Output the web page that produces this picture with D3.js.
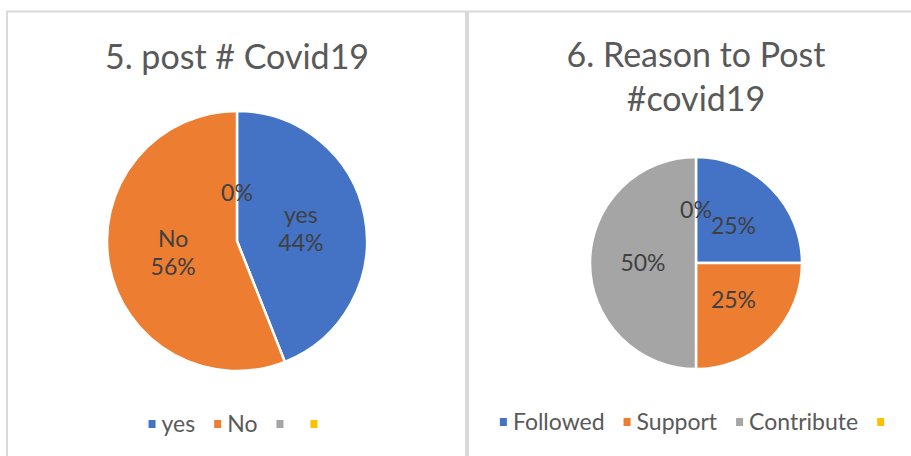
<!DOCTYPE html>
<html>
<head>
<meta charset="utf-8">
<script src="https://cdn.jsdelivr.net/npm/d3@7"></script>
<style>
  body { margin: 0; background: #fff; }
  svg { display: block; font-family: Lato, "Open Sans", sans-serif; }
</style>
</head>
<body>
<svg id="chart" width="911" height="456"></svg>
<script>
// chart 1: "5. post # Covid19"
const postCategories = [`yes`, `No`, ``, ``];
const postValues = [44, 56, 0, null];

// chart 2: "6. Reason to Post #covid19"
const reasonCategories = [`Followed`, `Support`, `Contribute`, ``];
const reasonValues = [25, 25, 50, 0];

const seriesColors = [`#4472C4`, `#ED7D31`, `#A5A5A5`, `#FFC000`];

const svg = d3.select(`#chart`);
const pct = d3.format(`.0%`);

const charts = [
    {
        title: [`5. post # Covid19`], titleY: 69,
        categories: postCategories, values: postValues,
        x0: 7, x1: 466, cx: 237, cy: 241, r: 130,
        showCategory: true, zeroLabelK: 0.37, legendY: 424
    },
    {
        title: [`6. Reason to Post`, `#covid19`], titleY: 67,
        categories: reasonCategories, values: reasonValues,
        x0: 468, x1: 927, cx: 696, cy: 263, r: 106,
        showCategory: false, zeroLabelK: 0.5, legendY: 422
    }
];

charts.forEach(c => {
    // chart frame
    svg.append(`rect`)
        .attr(`x`, c.x0).attr(`y`, 11.5)
        .attr(`width`, c.x1 - c.x0).attr(`height`, 480)
        .attr(`fill`, `none`)
        .attr(`stroke`, `#d9d9d9`)
        .attr(`stroke-width`, 2);

    svg.append(`text`)
        .attr(`x`, c.cx).attr(`y`, c.titleY)
        .attr(`text-anchor`, `middle`)
        .attr(`font-size`, `34px`)
        .attr(`fill`, `#595959`)
        .selectAll(`tspan`)
        .data(c.title)
        .enter().append(`tspan`)
            .attr(`x`, c.cx)
            .attr(`dy`, (d, i) => i === 0 ? 0 : 44)
            .text(d => d);

    const rows = c.categories.map((name, i) => ({ name, value: c.values[i], color: seriesColors[i] }));
    const total = d3.sum(rows, d => d.value || 0);

    const pie = d3.pie().sort(null).value(d => d.value || 0);
    const arc = d3.arc().innerRadius(0).outerRadius(c.r);
    const arcs = pie(rows);

    const g = svg.append(`g`).attr(`transform`, `translate(${c.cx}, ${c.cy})`);

    g.selectAll(`path`)
        .data(arcs.filter(d => d.data.value > 0))
        .enter().append(`path`)
            .attr(`d`, arc)
            .attr(`fill`, d => d.data.color)
            .attr(`stroke`, `#fff`)
            .attr(`stroke-width`, 2.5)
            .attr(`stroke-linejoin`, `round`);

    const labels = g.selectAll(`.lbl`)
        .data(arcs.filter(d => d.data.value !== null))
        .enter().append(`text`)
            .attr(`class`, `lbl`)
            .attr(`text-anchor`, `middle`)
            .attr(`font-size`, `23px`)
            .attr(`fill`, `#404040`)
            .attr(`transform`, d => {
                const k = d.data.value === 0 ? c.zeroLabelK : 0.5;
                const a = (d.startAngle + d.endAngle) / 2;
                return `translate(${Math.sin(a) * c.r * k}, ${-Math.cos(a) * c.r * k})`;
            });

    labels.each(function (d) {
        const t = d3.select(this);
        const lines = [];
        if (c.showCategory && d.data.name) lines.push(d.data.name);
        lines.push(pct(d.data.value / total));
        const lh = 28;
        t.selectAll(`tspan`)
            .data(lines)
            .enter().append(`tspan`)
                .attr(`x`, 0)
                .attr(`y`, (s, i) => (i - (lines.length - 1) / 2) * lh + 8)
                .text(s => s);
    });

    // legend
    const legend = svg.append(`g`);
    const gap = 19;
    let x = 0;
    rows.forEach(row => {
        const item = legend.append(`g`).attr(`transform`, `translate(${x}, 0)`);
        item.append(`rect`)
            .attr(`x`, 0).attr(`y`, -4)
            .attr(`width`, 7).attr(`height`, 8)
            .attr(`fill`, row.color);
        const t = item.append(`text`)
            .attr(`x`, 13).attr(`y`, 8)
            .attr(`font-size`, `23px`)
            .attr(`fill`, `#595959`)
            .text(row.name);
        const w = row.name ? t.node().getComputedTextLength() : 2;
        x += 13 + w + gap;
    });
    const lw = x - gap;
    legend.attr(`transform`, `translate(${c.cx - lw / 2}, ${c.legendY})`);
});
</script>
</body>
</html>
